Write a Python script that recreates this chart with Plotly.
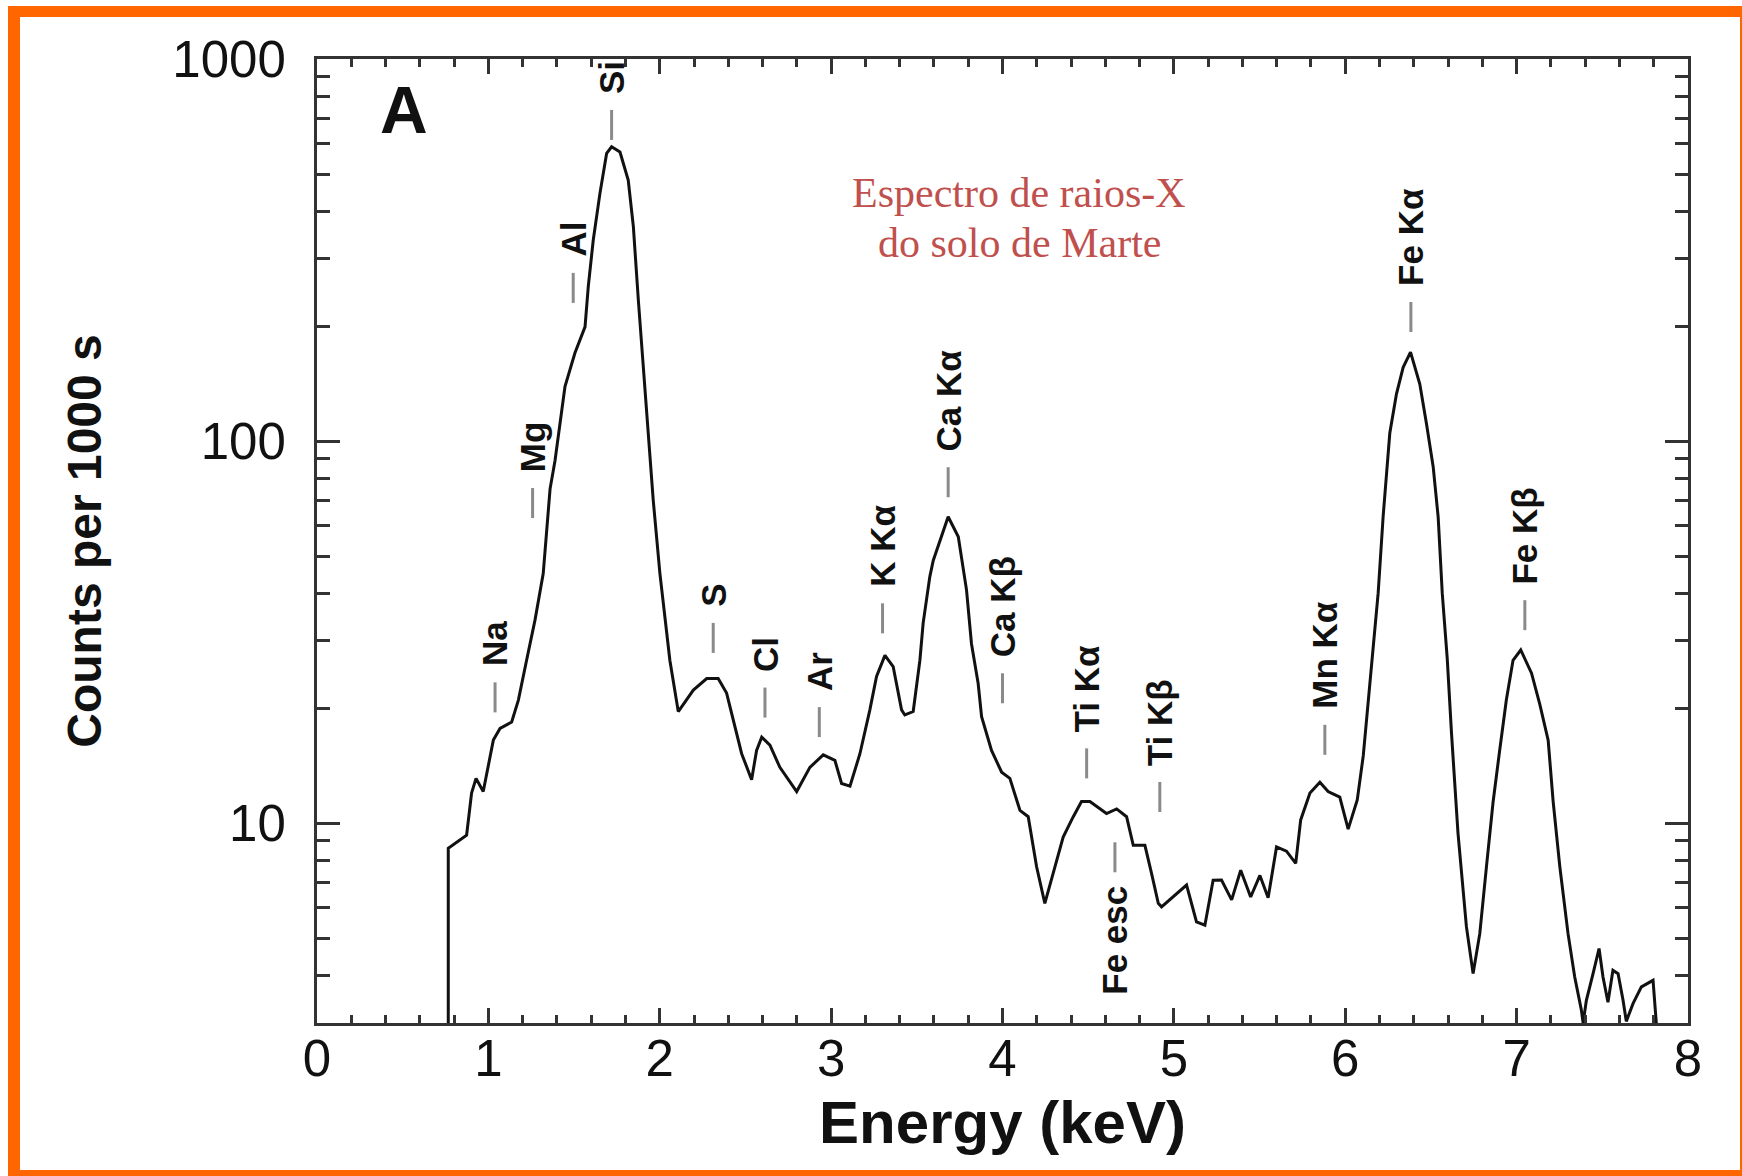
import numpy as np
import plotly.graph_objects as go

# ---------------- data ----------------
energy_kev = [0.766, 0.766, 0.873, 0.902, 0.928, 0.970, 1.029, 1.068, 1.136, 1.175,
              1.223, 1.272, 1.320, 1.340, 1.360, 1.389, 1.428, 1.447, 1.505, 1.564,
              1.583, 1.612, 1.651, 1.690, 1.719, 1.768, 1.816, 1.846, 1.875, 1.904,
              1.933, 1.962, 2.001, 2.030, 2.059, 2.108, 2.196, 2.274, 2.341, 2.390,
              2.439, 2.478, 2.536, 2.565, 2.595, 2.643, 2.701, 2.799, 2.876, 2.954,
              3.022, 3.061, 3.110, 3.168, 3.226, 3.265, 3.314, 3.362, 3.411, 3.430,
              3.479, 3.518, 3.537, 3.576, 3.596, 3.683, 3.742, 3.790, 3.819, 3.858,
              3.878, 3.936, 3.995, 4.043, 4.102, 4.150, 4.199, 4.247, 4.306, 4.354,
              4.413, 4.461, 4.510, 4.607, 4.666, 4.724, 4.763, 4.831, 4.870, 4.909,
              4.928, 5.016, 5.074, 5.132, 5.181, 5.229, 5.278, 5.337, 5.390, 5.448,
              5.502, 5.550, 5.599, 5.657, 5.711, 5.740, 5.794, 5.852, 5.900, 5.968,
              6.017, 6.070, 6.105, 6.139, 6.168, 6.192, 6.221, 6.260, 6.299, 6.338,
              6.381, 6.435, 6.474, 6.513, 6.542, 6.566, 6.595, 6.620, 6.658, 6.707,
              6.746, 6.785, 6.824, 6.863, 6.901, 6.940, 6.979, 7.024, 7.087, 7.135,
              7.184, 7.213, 7.252, 7.300, 7.339, 7.378, 7.388, 7.407, 7.446, 7.481,
              7.504, 7.533, 7.562, 7.592, 7.621, 7.640, 7.679, 7.728, 7.796, 7.815]
counts = [3.0, 8.6, 9.3, 12.0, 13.1, 12.1, 16.5, 17.7, 18.4, 21.0,
          26.7, 34.0, 45.0, 58.0, 75.0, 89.0, 118.0, 139.0, 170.0, 199.0,
          254.0, 336.0, 445.0, 566.0, 589.0, 571.0, 482.0, 364.0, 234.0, 156.0,
          105.0, 70.0, 45.0, 34.0, 26.7, 19.6, 22.3, 23.9, 23.9, 21.9,
          17.9, 15.2, 13.0, 15.5, 16.8, 16.0, 14.0, 12.1, 14.0, 15.1,
          14.6, 12.7, 12.5, 15.2, 19.8, 24.2, 27.5, 25.7, 19.8, 19.2,
          19.6, 26.7, 33.4, 44.2, 48.7, 63.4, 56.2, 40.8, 29.5, 23.2,
          19.0, 15.5, 13.6, 13.1, 10.8, 10.4, 7.69, 6.17, 7.69, 9.2,
          10.4, 11.4, 11.4, 10.6, 10.9, 10.4, 8.75, 8.75, 7.38, 6.17,
          6.04, 6.55, 6.89, 5.52, 5.41, 7.09, 7.1, 6.3, 7.53, 6.41,
          7.3, 6.38, 8.67, 8.45, 7.85, 10.2, 12.0, 12.8, 12.1, 11.7,
          9.65, 11.5, 15.0, 22.0, 31.0, 40.0, 63.4, 105.0, 133.0, 156.0,
          171.0, 141.0, 111.0, 85.7, 63.4, 40.0, 27.0, 17.2, 9.4, 5.36,
          4.04, 5.14, 7.7, 11.4, 15.5, 21.0, 26.7, 28.4, 24.7, 20.5,
          16.5, 11.4, 7.7, 5.14, 3.96, 3.24, 3.0, 3.44, 4.04, 4.70,
          3.96, 3.40, 4.12, 4.04, 3.44, 3.03, 3.37, 3.73, 3.88, 3.0]

peak_labels = ["Na", "Mg", "Al", "Si", "S", "Cl", "Ar", "K Kα", "Ca Kα", "Ca Kβ",
               "Ti Kα", "Ti Kβ", "Fe esc", "Mn Kα", "Fe Kα", "Fe Kβ"]
peak_energy = [1.039, 1.258, 1.495, 1.719, 2.312, 2.614, 2.931, 3.300, 3.683, 4.000,
               4.491, 4.918, 4.656, 5.881, 6.383, 7.048]
peak_level = [19.5, 62.9, 230, 614, 27.9, 18.9, 16.8, 31.4, 71.3, 20.6,
              13.1, 10.7, 7.44, 15.1, 193, 32.0]
label_below = ["Fe esc"]

x_ticks = [0, 1, 2, 3, 4, 5, 6, 7, 8]
y_ticks = [10, 100, 1000]
y_minor = [3, 4, 5, 6, 7, 8, 9, 20, 30, 40, 50, 60, 70, 80, 90,
           200, 300, 400, 500, 600, 700, 800, 900]

# ---------------- layout geometry ----------------
W, H = 1742, 1176
L, R, T, B = 317, 54, 59, 153
PW, PH = W - L - R, H - T - B
PX_PER_DECADE = PH / (3 - np.log10(3))
DASH_PX = 30
GAP_PX = 14


def px2paper_x(px):
    return (px - L) / PW


def px2paper_y(py):
    return (H - B - py) / PH


fig = go.Figure()

fig.add_trace(go.Scatter(
    x=energy_kev, y=counts, mode="lines",
    line=dict(color="#111111", width=3),
    hoverinfo="skip", showlegend=False,
))

# dashes below the peak labels
dx, dy = [], []
fac = 10 ** (DASH_PX / PX_PER_DECADE)
for e, lv in zip(peak_energy, peak_level):
    dx += [e, e, None]
    dy += [lv, lv * fac, None]
fig.add_trace(go.Scatter(
    x=dx, y=dy, mode="lines",
    line=dict(color="#8a8a8a", width=3),
    hoverinfo="skip", showlegend=False,
))

annotations = []
for name, e, lv in zip(peak_labels, peak_energy, peak_level):
    below = name in label_below
    annotations.append(dict(
        x=e, y=np.log10(lv), xref="x", yref="y",
        text=name, showarrow=False, textangle=-90,
        xanchor="center",
        yanchor="top" if below else "bottom",
        yshift=-11 if below else DASH_PX + GAP_PX,
        font=dict(family="Liberation Sans, Arial, sans-serif", size=35,
                  color="#111111", weight="bold"),
    ))

annotations.append(dict(
    x=px2paper_x(404), y=px2paper_y(110), xref="paper", yref="paper",
    text="A", showarrow=False, xanchor="center", yanchor="middle",
    font=dict(family="Liberation Sans, Arial, sans-serif", size=66,
              color="#111111", weight="bold"),
))
for txt, cy in [("Espectro de raios-X", 193), ("do solo de Marte", 243)]:
    annotations.append(dict(
        x=px2paper_x(1019), y=px2paper_y(cy), xref="paper", yref="paper",
        text=txt, showarrow=False, xanchor="center", yanchor="middle",
        font=dict(family="Liberation Serif, Times New Roman, serif", size=42,
                  color="#C0504D"),
    ))

# orange frame (filled strips)
ORANGE = "#FF6600"
shapes = []
for (x0, y0, x1, y1) in [(8, 6, W, 17), (8, 6, 20, H), (8, 1170, W, H), (1740, 6, W, H)]:
    shapes.append(dict(
        type="rect", xref="paper", yref="paper",
        x0=px2paper_x(x0), x1=px2paper_x(x1),
        y0=px2paper_y(y1), y1=px2paper_y(y0),
        fillcolor=ORANGE, line=dict(width=0), layer="above",
    ))

axis_color = "#333333"
tick_font = dict(family="Liberation Sans, Arial, sans-serif", size=51, color="#111111")

fig.update_layout(
    width=W, height=H,
    margin=dict(l=L, r=R, t=T, b=B, autoexpand=False),
    paper_bgcolor="white", plot_bgcolor="white",
    showlegend=False,
    annotations=annotations,
    shapes=shapes,
    xaxis=dict(
        range=[0, 8], tickvals=x_ticks, ticktext=[str(v) for v in x_ticks],
        showgrid=False, zeroline=False,
        showline=True, linecolor=axis_color, linewidth=3, mirror="ticks",
        ticks="inside", ticklen=15, tickwidth=3, tickcolor=axis_color,
        minor=dict(dtick=0.2, ticks="inside", ticklen=8, tickwidth=3,
                   tickcolor=axis_color, showgrid=False),
        tickfont=tick_font, ticklabelstandoff=-11,
        title=dict(text="Energy (keV)", standoff=15,
                   font=dict(family="Liberation Sans, Arial, sans-serif", size=60,
                             color="#111111", weight="bold")),
    ),
    yaxis=dict(
        type="log", range=[np.log10(3), 3],
        tickvals=y_ticks, ticktext=[str(v) for v in y_ticks],
        showgrid=False, zeroline=False,
        showline=True, linecolor=axis_color, linewidth=3, mirror="ticks",
        ticks="inside", ticklen=23, tickwidth=3, tickcolor=axis_color,
        minor=dict(tickvals=y_minor, ticks="inside", ticklen=13, tickwidth=3,
                   tickcolor=axis_color, showgrid=False),
        tickfont=tick_font, ticklabelstandoff=18,
        title=dict(text="Counts per 1000 s", standoff=56,
                   font=dict(family="Liberation Sans, Arial, sans-serif", size=48,
                             color="#111111", weight="bold")),
    ),
)

fig.write_html(
    "out.html",
    config={"displayModeBar": False},
    post_script="document.body.style.margin='0';document.body.style.padding='0';",
)
